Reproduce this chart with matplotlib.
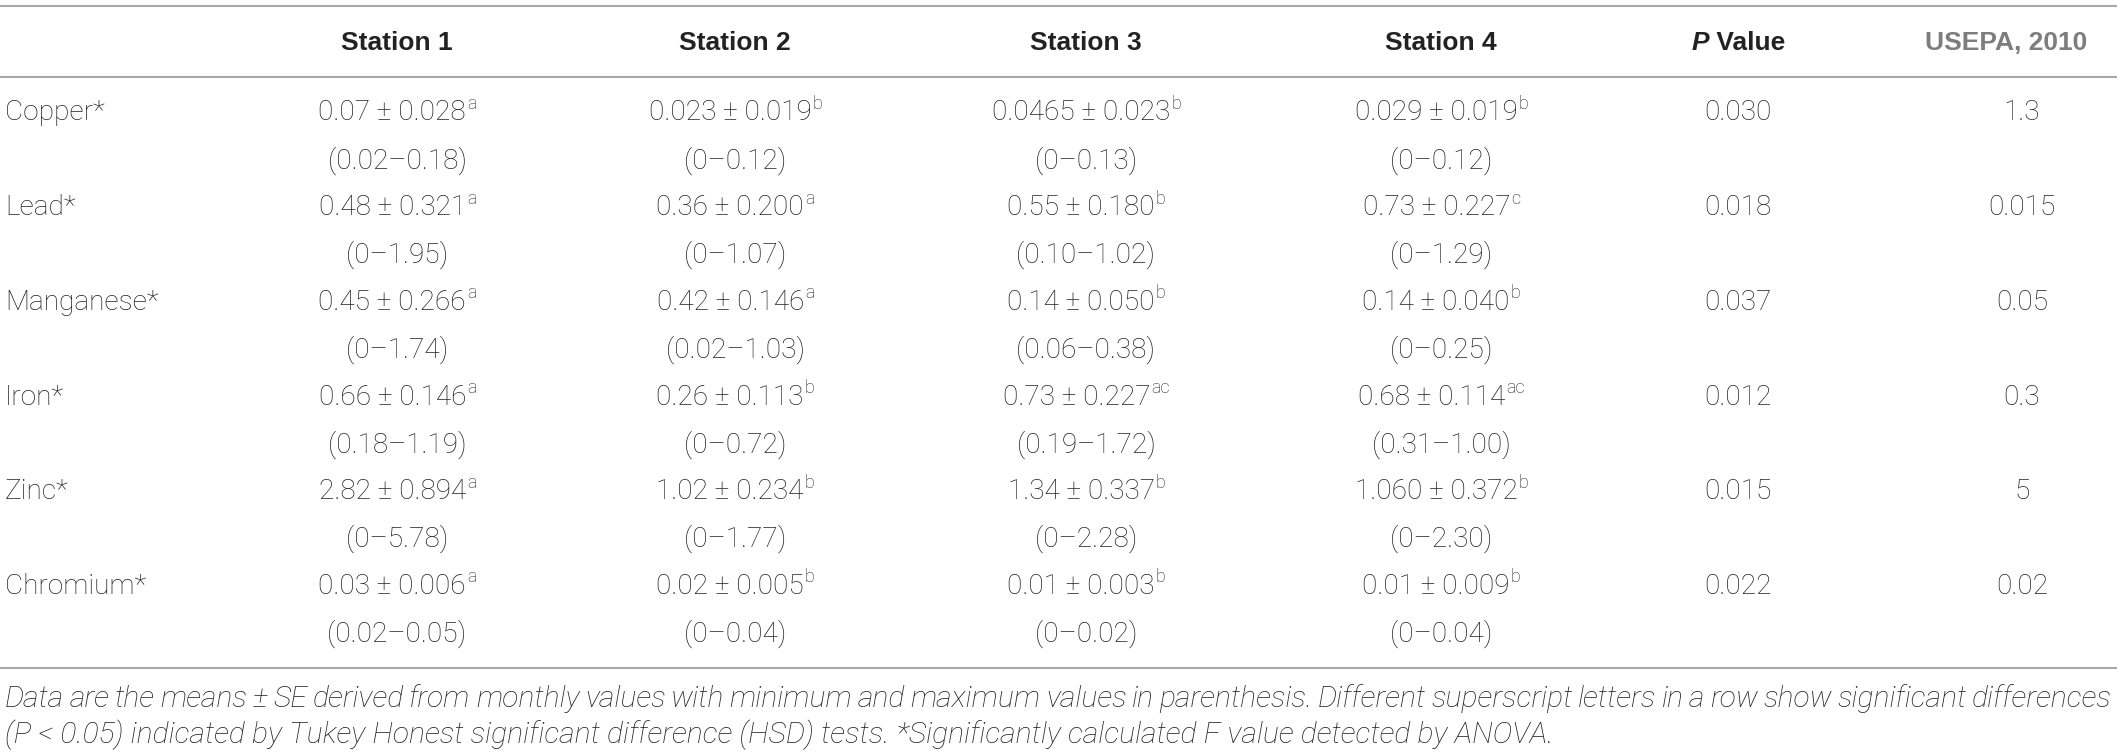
"""Heavy metal concentrations by station, drawn as a table figure."""
import matplotlib

matplotlib.use("Agg")
import matplotlib.pyplot as plt

# ---- table content ------------------------------------------------------
metals = ["Copper*", "Lead*", "Manganese*", "Iron*", "Zinc*", "Chromium*"]

station_headers = ["Station 1", "Station 2", "Station 3", "Station 4"]

station1_mean = ["0.07", "0.48", "0.45", "0.66", "2.82", "0.03"]
station1_se = ["0.028", "0.321", "0.266", "0.146", "0.894", "0.006"]
station1_sup = ["a", "a", "a", "a", "a", "a"]
station1_range = ["(0.02–0.18)", "(0–1.95)", "(0–1.74)", "(0.18–1.19)", "(0–5.78)", "(0.02–0.05)"]

station2_mean = ["0.023", "0.36", "0.42", "0.26", "1.02", "0.02"]
station2_se = ["0.019", "0.200", "0.146", "0.113", "0.234", "0.005"]
station2_sup = ["b", "a", "a", "b", "b", "b"]
station2_range = ["(0–0.12)", "(0–1.07)", "(0.02–1.03)", "(0–0.72)", "(0–1.77)", "(0–0.04)"]

station3_mean = ["0.0465", "0.55", "0.14", "0.73", "1.34", "0.01"]
station3_se = ["0.023", "0.180", "0.050", "0.227", "0.337", "0.003"]
station3_sup = ["b", "b", "b", "ac", "b", "b"]
station3_range = ["(0–0.13)", "(0.10–1.02)", "(0.06–0.38)", "(0.19–1.72)", "(0–2.28)", "(0–0.02)"]

station4_mean = ["0.029", "0.73", "0.14", "0.68", "1.060", "0.01"]
station4_se = ["0.019", "0.227", "0.040", "0.114", "0.372", "0.009"]
station4_sup = ["b", "c", "b", "ac", "b", "b"]
station4_range = ["(0–0.12)", "(0–1.29)", "(0–0.25)", "(0.31–1.00)", "(0–2.30)", "(0–0.04)"]

p_values = ["0.030", "0.018", "0.037", "0.012", "0.015", "0.022"]
usepa_2010 = ["1.3", "0.015", "0.05", "0.3", "5", "0.02"]

footnote_1 = ("Data are the means ± SE derived from monthly values with minimum and maximum "
              "values in parenthesis. Different superscript letters in a row show significant differences")
footnote_2 = ("(P < 0.05) indicated by Tukey Honest significant difference (HSD) tests. "
              "*Significantly calculated F value detected by ANOVA.")

# ---- layout (pixels) ----------------------------------------------------
W, H = 2117, 754
STATION_X = [397, 735, 1086, 1441]
PVAL_X = 1738
USEPA_HEAD_X = 2006
USEPA_X = 2022
LABEL_X = 5
HEADER_Y = 43
FIRST_ROW_Y = 113
LINE_STEP = 47.35
RULES_Y = [6, 77, 668]
FOOT_Y = [699, 735]

TEXT = "#222222"
RULE = "#a8a8a8"
BODY = dict(family=["Roboto", "DejaVu Sans"], weight="light", size=20.2, color=TEXT)
HEAD = dict(family=["Liberation Sans", "DejaVu Sans"], weight="bold", size=19, color=TEXT)
SUP_SIZE = 13

fig = plt.figure(figsize=(W / 100, H / 100), dpi=100)
ax = fig.add_axes([0, 0, 1, 1])
ax.set_xlim(0, W)
ax.set_ylim(H, 0)
ax.axis("off")
renderer = fig.canvas.get_renderer()


def width_of(t):
    bb = t.get_window_extent(renderer=renderer)
    return bb.width


def centered_pair(xc, yc, main, sup, main_kw, sup_kw, rise=9):
    """Draw main text plus superscript, centred as one group."""
    t1 = ax.text(0, yc, main, ha="left", va="center", **main_kw)
    t2 = ax.text(0, yc - rise, sup, ha="left", va="center", **sup_kw)
    w1, w2 = width_of(t1), width_of(t2)
    x0 = xc - (w1 + w2) / 2
    t1.set_x(x0)
    t2.set_x(x0 + w1 + 1)


# rules
for y in RULES_Y:
    ax.plot([0, W], [y, y], color=RULE, lw=1.5, solid_capstyle="butt")

# header
for xc, label in zip(STATION_X, station_headers):
    ax.text(xc, HEADER_Y, label, ha="center", va="center", **HEAD)

# "P Value" with italic P
tp = ax.text(0, HEADER_Y, "P", ha="left", va="center", style="italic", **HEAD)
tv = ax.text(0, HEADER_Y, " Value", ha="left", va="center", **HEAD)
wp, wv = width_of(tp), width_of(tv)
tp.set_x(PVAL_X - (wp + wv) / 2)
tv.set_x(PVAL_X - (wp + wv) / 2 + wp)

ax.text(USEPA_HEAD_X, HEADER_Y, "USEPA, 2010", ha="center", va="center",
        **{**HEAD, "color": "#7d7d7d"})

# body
sup_kw = {**BODY, "size": SUP_SIZE}
stations = [
    (station1_mean, station1_se, station1_sup, station1_range),
    (station2_mean, station2_se, station2_sup, station2_range),
    (station3_mean, station3_se, station3_sup, station3_range),
    (station4_mean, station4_se, station4_sup, station4_range),
]
for i, metal in enumerate(metals):
    y_main = FIRST_ROW_Y + 2 * i * LINE_STEP
    y_range = y_main + LINE_STEP
    ax.text(LABEL_X, y_main, metal, ha="left", va="center", **BODY)
    for xc, (mean, se, sup, rng) in zip(STATION_X, stations):
        centered_pair(xc, y_main, f"{mean[i]} ± {se[i]}", sup[i], BODY, sup_kw)
        ax.text(xc, y_range, rng[i], ha="center", va="center", **BODY)
    ax.text(PVAL_X, y_main, p_values[i], ha="center", va="center", **BODY)
    ax.text(USEPA_X, y_main, usepa_2010[i], ha="center", va="center", **BODY)

# footnote: first line justified across the full width
FOOT = {**BODY, "style": "italic", "size": 21.7}
words = footnote_1.split(" ")
word_texts = [ax.text(0, FOOT_Y[0], w, ha="left", va="center", **FOOT) for w in words]
widths = [width_of(t) for t in word_texts]
gap = (W - 2 * LABEL_X - sum(widths)) / (len(words) - 1)
x = LABEL_X
for t, w in zip(word_texts, widths):
    t.set_x(x)
    x += w + gap
ax.text(LABEL_X, FOOT_Y[1], footnote_2, ha="left", va="center", **FOOT)

fig.savefig("out.png", dpi=100)
